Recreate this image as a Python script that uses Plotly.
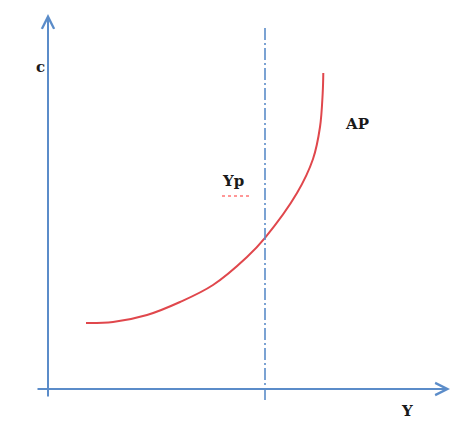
import plotly.graph_objects as go

# Curve AP (Y, C) in abstract units
curve_y = [0.95, 1.625, 2.475, 3.3, 4.125, 4.975, 5.425, 6.225, 6.625, 6.8, 6.8675, 6.8825]
curve_c = [1.65, 1.675, 1.85, 2.175, 2.6, 3.3, 3.78, 4.9, 5.75, 6.55, 7.4, 7.9]

yp_value = 5.425
yp_span = [-0.275, 9.025]

axis_x_span = [-0.3, 10.05]
axis_y_span = [-0.225, 9.375]

labels = ["c", "Yp", "AP", "Y"]
label_x = [-0.2, 4.625, 7.725, 8.975]
label_y = [8.05, 5.2, 6.625, -0.55]

axis_color = "#5b8cc9"
curve_color = "#e0474c"

fig = go.Figure()

fig.add_trace(go.Scatter(
    x=curve_y, y=curve_c, mode="lines",
    line=dict(color=curve_color, width=2, shape="spline", smoothing=1.0),
    hoverinfo="skip", showlegend=False))

fig.add_trace(go.Scatter(
    x=[yp_value, yp_value], y=yp_span, mode="lines",
    line=dict(color=axis_color, width=1.6, dash="12px,3px,2px,3px"),
    hoverinfo="skip", showlegend=False))

annotations = []
annotations.append(dict(x=0, y=axis_y_span[1], ax=0, ay=axis_y_span[0],
                        xref="x", yref="y", axref="x", ayref="y",
                        showarrow=True, arrowhead=5, arrowsize=1.2, arrowwidth=2,
                        arrowcolor=axis_color, text=""))
annotations.append(dict(x=axis_x_span[1], y=0, ax=axis_x_span[0], ay=0,
                        xref="x", yref="y", axref="x", ayref="y",
                        showarrow=True, arrowhead=5, arrowsize=1.2, arrowwidth=2,
                        arrowcolor=axis_color, text=""))

for t, lx, ly in zip(labels, label_x, label_y):
    annotations.append(dict(x=lx, y=ly, xref="x", yref="y", text="<b>%s</b>" % t,
                            showarrow=False,
                            font=dict(family="DejaVu Serif", size=15, color="#1a1a1a")))

fig.update_layout(
    width=453, height=421,
    margin=dict(l=0, r=0, t=0, b=0),
    paper_bgcolor="white", plot_bgcolor="white",
    xaxis=dict(range=[-1.2, 10.125], visible=False, fixedrange=True),
    yaxis=dict(range=[-0.8, 9.725], visible=False, fixedrange=True),
    annotations=annotations,
    shapes=[dict(type="line", xref="x", yref="y", x0=4.35, x1=5.05, y0=4.825, y1=4.825,
                 line=dict(color="#ff3030", width=1.2, dash="dot"))],
)

fig.write_html("out.html", config={"displayModeBar": False},
               post_script="document.body.style.margin='0';document.body.style.overflow='hidden';")
